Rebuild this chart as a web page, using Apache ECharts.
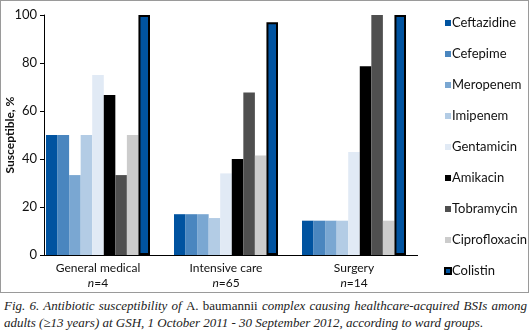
<!DOCTYPE html>
<html>
<head>
<meta charset="utf-8">
<script src="https://cdn.jsdelivr.net/npm/echarts@6/dist/echarts.min.js"></script>
<style>
  html, body { margin: 0; padding: 0; background: #fff; }
  #box {
    position: absolute; left: 0; top: 0;
    width: 527px; height: 291px;
    border: 1px solid #9a9a9a;
  }
  #chart { width: 527px; height: 291px; }
  #caption {
    position: absolute; left: 4px; top: 297px; width: 523px;
    font-family: "Liberation Serif", serif; font-style: italic;
    font-size: 13px; line-height: 17px; color: #222;
    text-align: justify; text-align-last: left;
  }
  #caption .up { font-style: normal; }
</style>
</head>
<body>
<div id="box"><div id="chart"></div></div>
<div id="caption">Fig. 6. Antibiotic susceptibility of <span class="up">A. baumannii</span> complex causing healthcare-acquired BSIs among adults (≥13 years) at GSH, 1 October 2011 - 30 September 2012, according to ward groups.</div>
<script>
  const wards = ["General medical", "Intensive care", "Surgery"];
  const wardN = ["4", "65", "14"];
  const drugs = ["Ceftazidine", "Cefepime", "Meropenem", "Imipenem", "Gentamicin",
                 "Amikacin", "Tobramycin", "Ciprofloxacin", "Colistin"];
  const drugColors = ["#0053a0", "#4a86bf", "#7aa7d2", "#b3cce5", "#e1eaf5",
                      "#000000", "#4f4f4f", "#cccccc", "#0053a0"];

  // susceptible % per ward, in drug order
  const ceftazidine = [50, 17, 14.3];
  const cefepime = [50, 17, 14.3];
  const meropenem = [33.3, 17, 14.3];
  const imipenem = [50, 15.4, 14.3];
  const gentamicin = [75, 34, 42.9];
  const amikacin = [66.7, 40, 78.6];
  const tobramycin = [33.3, 67.7, 100];
  const ciprofloxacin = [50, 41.5, 14.3];
  const colistin = [100, 97, 100];
  const values = [ceftazidine, cefepime, meropenem, imipenem, gentamicin,
                  amikacin, tobramycin, ciprofloxacin, colistin];

  const yTicks = [0, 20, 40, 60, 80, 100];

  const chart = echarts.init(document.getElementById("chart"));
  const font = "Lato, 'Noto Sans', sans-serif";

  // the groups sit a bit left of centre in the original, so the category
  // band starts left of the y axis line and the y axis is pulled inwards
  const yAxisShift = 10;

  chart.setOption({
    animation: false,
    textStyle: { fontFamily: font },
    grid: { left: 33, right: 110, top: 14, bottom: 37, containLabel: false, outerBoundsMode: "none" },
    legend: {
      orient: "vertical",
      left: 438,
      top: 10,
      itemWidth: 6,
      itemHeight: 6,
      itemGap: 17,
      icon: "rect",
      data: drugs,
      textStyle: { fontSize: 13, color: "#111", lineHeight: 14, fontFamily: font, padding: [0, 0, 0, -4] },
    },
    xAxis: {
      type: "category",
      data: wards,
      axisLine: { show: false },
      axisTick: { show: false },
      axisLabel: {
        color: "#111",
        fontSize: 12,
        margin: 6,
        lineHeight: 15,
        formatter: (v, i) => v + "\n{n|n}{v|=" + wardN[i] + "}",
        rich: {
          n: { fontStyle: "italic", fontSize: 12, color: "#111", fontFamily: font },
          v: { fontSize: 12, color: "#111", fontFamily: font },
        },
      },
    },
    yAxis: {
      type: "value",
      min: yTicks[0],
      max: yTicks[yTicks.length - 1],
      interval: 20,
      offset: -yAxisShift,
      name: "Susceptible, %",
      nameLocation: "middle",
      nameGap: 28,
      nameMoveOverlap: false,
      nameTextStyle: { fontWeight: "bold", fontSize: 12, color: "#111", fontFamily: font },
      axisLine: { show: true, lineStyle: { color: "#000", width: 1 } },
      axisTick: { show: true, length: 4, lineStyle: { color: "#000" } },
      axisLabel: { color: "#111", fontSize: 13, margin: 7 },
      splitLine: { show: false },
    },
    series: drugs.map((d, i) => ({
      name: d,
      type: "bar",
      data: values[i],
      barGap: "0%",
      barCategoryGap: "18.75%",
      itemStyle: d === "Colistin"
        ? { color: drugColors[i], borderColor: "#000", borderWidth: 2 }
        : { color: drugColors[i] },
    })),
  });

  // x axis baseline, running from the y axis line to the end of the grid
  const gridRect = chart.getModel().getComponent("grid").coordinateSystem.getRect();
  const y0 = Math.round(chart.convertToPixel({ yAxisIndex: 0 }, 0)) + 0.5;
  chart.setOption({
    graphic: [{
      type: "line",
      shape: { x1: gridRect.x + yAxisShift, y1: y0, x2: gridRect.x + gridRect.width, y2: y0 },
      style: { stroke: "#000", lineWidth: 1 },
      z: 5,
    }],
  });
</script>
</body>
</html>
